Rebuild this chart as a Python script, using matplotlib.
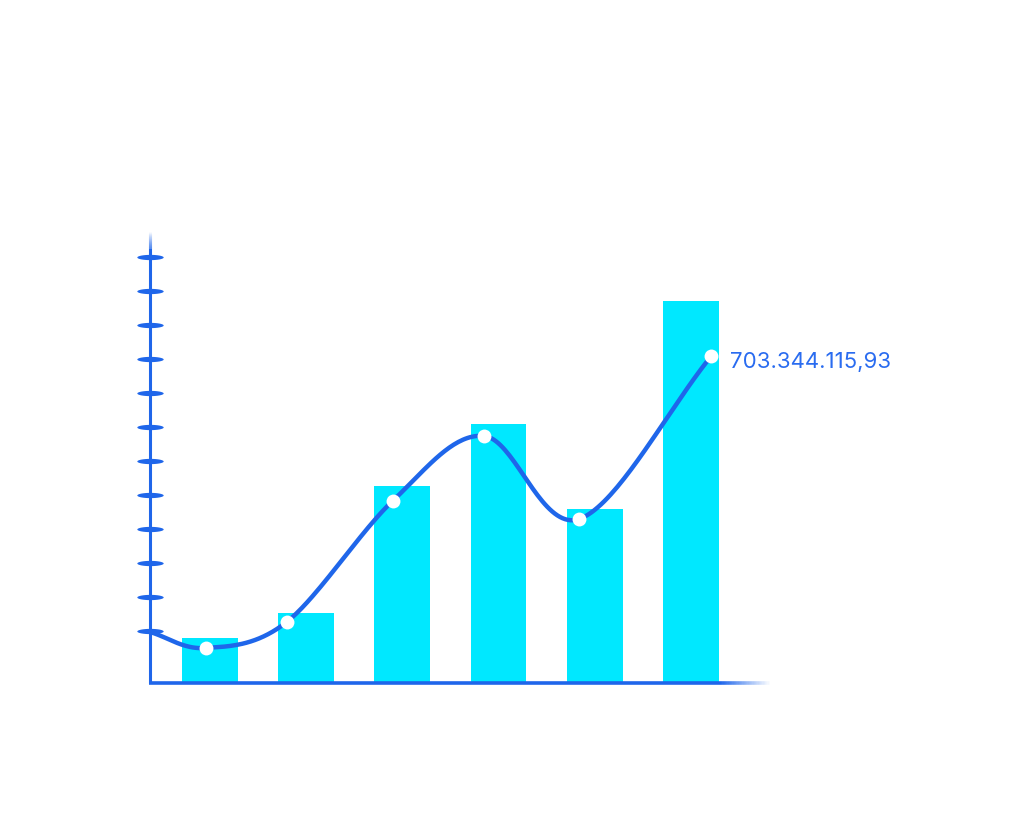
import numpy as np
import matplotlib.pyplot as plt
from matplotlib.path import Path
from matplotlib.collections import LineCollection

# -------------------------------
# Data (values in millions)
# -------------------------------
bar_x = [0, 1, 2, 3, 4, 5]
bar_values = [96.8, 150.6, 423.8, 557.1, 374.3, 821.7]

line_x = [-0.62, -0.04, 0.80, 1.90, 2.85, 3.84, 5.21]
line_values = [109.7, 75.3, 131.2, 391.5, 531.3, 352.8, 703.3]
point_x = line_x[1:]
point_values = line_values[1:]

tick_values = [111.9, 185.0, 258.2, 331.3, 404.4, 477.5,
               550.7, 623.8, 696.9, 770.1, 843.2, 916.3]

last_label = "703.344.115,93"

# -------------------------------
# Style
# -------------------------------
cyan = "#00E8FF"
blue = "#1F66EA"
blue_rgb = (0.12, 0.40, 0.92)

x_min, x_max = -0.62, 5.82
y_min, y_max = 0, 970

fig = plt.figure(figsize=(10.24, 8.19), dpi=100)
ax = fig.add_axes([150 / 1024, 1 - 683 / 819, 620 / 1024, 451 / 819])
ax.set_xlim(x_min, x_max)
ax.set_ylim(y_min, y_max)
ax.axis("off")

# bars
ax.bar(bar_x, bar_values, width=0.58, color=cyan, zorder=2)


# smooth line through the points (Catmull-Rom)
def catmull_rom(xs, ys, n=40):
    pts = np.column_stack([xs, ys])
    pts = np.vstack([2 * pts[0] - pts[1], pts, 2 * pts[-1] - pts[-2]])
    out = []
    for i in range(1, len(pts) - 2):
        p0, p1, p2, p3 = pts[i - 1], pts[i], pts[i + 1], pts[i + 2]
        t = np.linspace(0, 1, n)[:, None]
        seg = 0.5 * ((2 * p1) + (-p0 + p2) * t
                     + (2 * p0 - 5 * p1 + 4 * p2 - p3) * t ** 2
                     + (-p0 + 3 * p1 - 3 * p2 + p3) * t ** 3)
        out.append(seg)
    out = np.vstack(out)
    return out[:, 0], out[:, 1]


# compute the curve in display-like proportions
sx = 96.2
sy = 1 / 2.151
cx, cy = catmull_rom(np.array(line_x) * sx, np.array(line_values) * sy)
ax.plot(cx / sx, cy / sy, color=blue, lw=3.2, zorder=3, solid_capstyle="round")

ax.plot(point_x, point_values, "o", color="white", markersize=10,
        markeredgewidth=0, zorder=4)

ax.text(point_x[-1] + 0.19, point_values[-1] - 12, last_label, color="#2A6CF0",
        fontsize=16, family="Inter",
        va="center", ha="left", zorder=5)


# axis lines: solid part plus a fading tail
def fading_line(p_start, p_fade, p_end, lw, n=40):
    ax.plot([p_start[0], p_fade[0]], [p_start[1], p_fade[1]], color=blue,
            lw=lw, solid_capstyle="butt", zorder=3, clip_on=False)
    fx = np.linspace(p_fade[0], p_end[0], n + 1)
    fy = np.linspace(p_fade[1], p_end[1], n + 1)
    segs = [[(fx[i], fy[i]), (fx[i + 1], fy[i + 1])] for i in range(n)]
    cols = [blue_rgb + (1 - i / n,) for i in range(n)]
    ax.add_collection(LineCollection(segs, colors=cols, linewidths=lw,
                                     capstyle="butt", zorder=3, clip_on=False))


fading_line((x_min, y_min), (x_min, 935), (x_min, y_max), 2.2)
fading_line((x_min - 0.015, y_min), (5.3, y_min), (x_max, y_min), 2.6)

# lens-shaped tick marks
t = np.linspace(0, np.pi, 20)
top = np.column_stack([-np.cos(t), 0.2 * np.sin(t)])
bot = np.column_stack([np.cos(t), -0.2 * np.sin(t)])
verts = np.vstack([top, bot, top[:1]])
lens = Path(verts, closed=True)
ax.plot([x_min] * len(tick_values), tick_values, ls="none", marker=lens,
        markersize=19, color=blue, markeredgewidth=0, zorder=4, clip_on=False)

plt.savefig("out.png", dpi=100, facecolor="white")
plt.close()
